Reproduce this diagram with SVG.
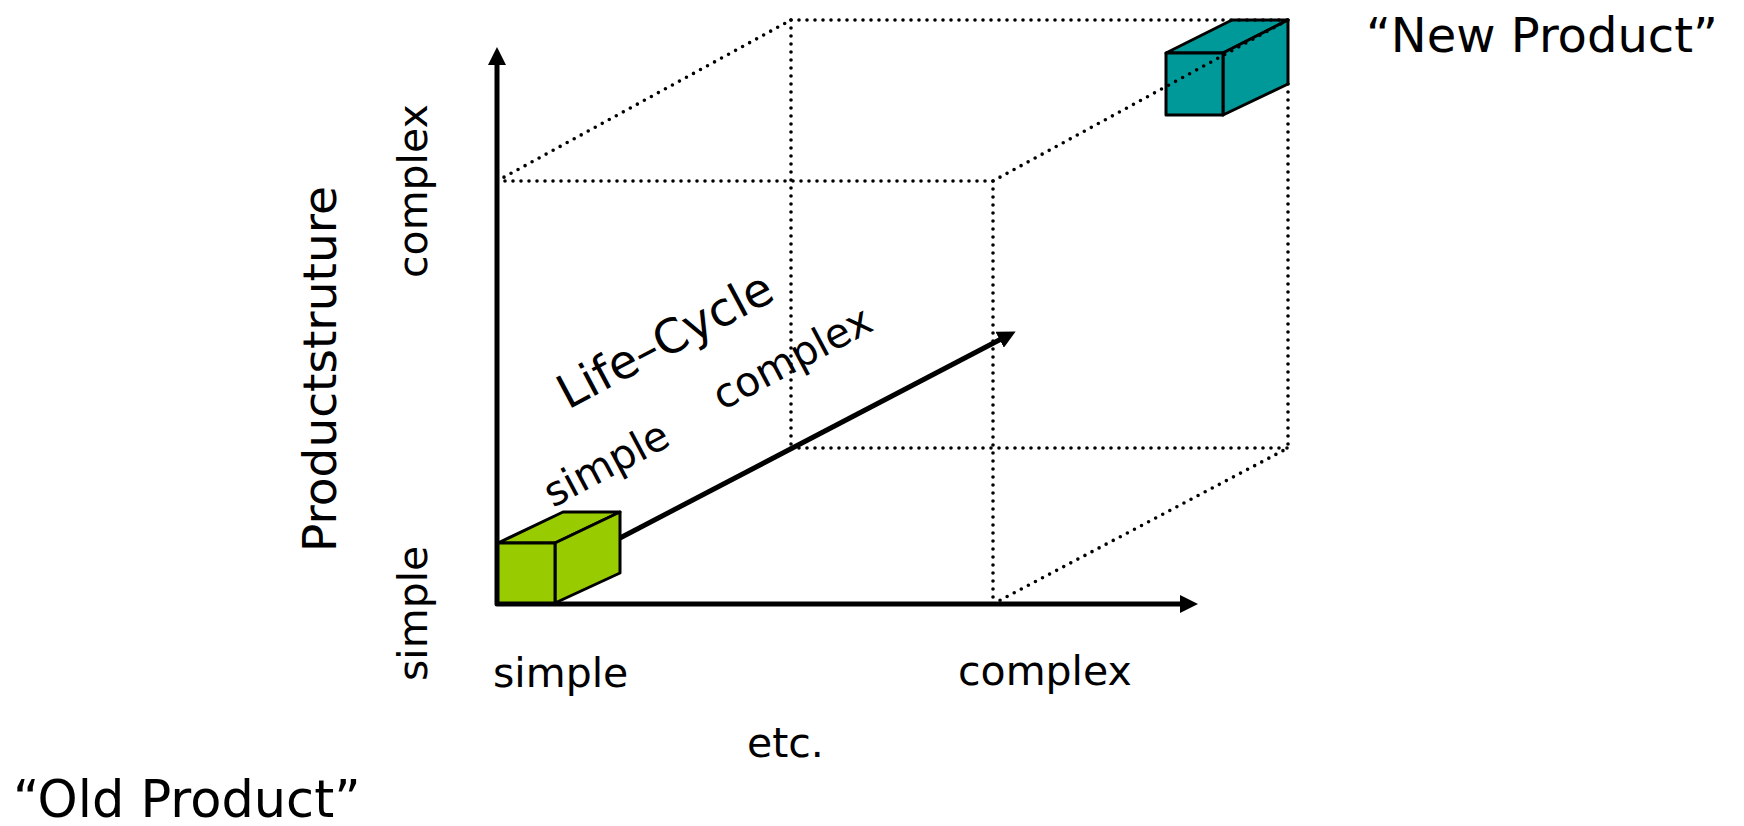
<svg xmlns="http://www.w3.org/2000/svg" width="1744" height="826" viewBox="0 0 1744 826">
  <style>
    .lbl { font-family: "DejaVu Sans", Verdana, sans-serif; fill: #000; }
    .big { font-size: 48px; }
    .mid { font-size: 47px; }
    .sml { font-size: 41px; }
    .axis { fill: none; stroke: #000; stroke-width: 5; stroke-linejoin: round; }
    .dot { fill: none; stroke: #000; stroke-width: 3.6; stroke-linecap: round; stroke-dasharray: 0 8; }
    .box { stroke: #000; stroke-width: 3; stroke-linejoin: round; }
  </style>
  <defs>
    <marker id="head" viewBox="0 0 18 18" refX="6" refY="9" markerWidth="18" markerHeight="18" markerUnits="userSpaceOnUse" orient="auto-start-reverse">
      <path d="M0,0 L18,9 L0,18 z" fill="#000"/>
    </marker>
  </defs>
  <rect width="1744" height="826" fill="#fff"/>

  <!-- axes: product structure (up), variants (right), life-cycle (diagonal) -->
  <g id="connectors">
    <path class="axis" d="M497,59 L497,604 L1186,604" marker-start="url(#head)" marker-end="url(#head)"/>
    <line class="axis" x1="620" y1="538" x2="1005" y2="337" marker-end="url(#head)"/>
  </g>

  <!-- simple product block at origin -->
  <g id="old-product-box">
    <polygon class="box" fill="#99CC00" points="498,543 563,512 620,512 555,543"/>
    <polygon class="box" fill="#99CC00" points="555,543 620,512 620,573 555,603"/>
    <rect class="box" fill="#99CC00" x="498" y="543" width="57" height="60"/>
  </g>

  <!-- complex product block at far corner -->
  <g id="new-product-box">
    <polygon class="box" fill="#009999" points="1166,53 1232,20 1288,20 1223,53"/>
    <polygon class="box" fill="#009999" points="1223,53 1288,20 1288,84 1223,115"/>
    <rect class="box" fill="#009999" x="1166" y="53" width="57" height="62"/>
  </g>

  <!-- dotted cube edges -->
  <g id="cube-edges">
    <line class="dot" x1="497" y1="181" x2="791" y2="20"/>
    <line class="dot" x1="791" y1="20" x2="1288" y2="20"/>
    <line class="dot" x1="497" y1="181" x2="993" y2="181"/>
    <line class="dot" x1="993" y1="181" x2="1288" y2="20"/>
    <line class="dot" x1="791" y1="20" x2="791" y2="448"/>
    <line class="dot" x1="1288" y1="84" x2="1288" y2="448"/>
    <line class="dot" x1="993" y1="181" x2="993" y2="604"/>
    <line class="dot" x1="791" y1="448" x2="1288" y2="448"/>
    <line class="dot" x1="993" y1="604" x2="1288" y2="448"/>
  </g>

  <!-- labels -->
  <g id="labels">
    <text class="lbl big" x="1366" y="52">“New Product”</text>
    <text class="lbl" style="font-size:51px" x="13" y="817">“Old Product”</text>
    <text class="lbl sml" x="747" y="757">etc.</text>
    <text class="lbl sml" x="493" y="687">simple</text>
    <text class="lbl sml" x="958" y="685">complex</text>
    <text class="lbl mid" transform="translate(336,552) rotate(-90)">Productstruture</text>
    <text class="lbl sml" transform="translate(427,681) rotate(-90)">simple</text>
    <text class="lbl sml" transform="translate(427,278) rotate(-90)">complex</text>
    <text class="lbl mid" transform="translate(568,410) rotate(-28)">Life–Cycle</text>
    <text class="lbl sml" transform="translate(553,508) rotate(-28)">simple</text>
    <text class="lbl sml" transform="translate(722,411) rotate(-28)">complex</text>
  </g>
</svg>
